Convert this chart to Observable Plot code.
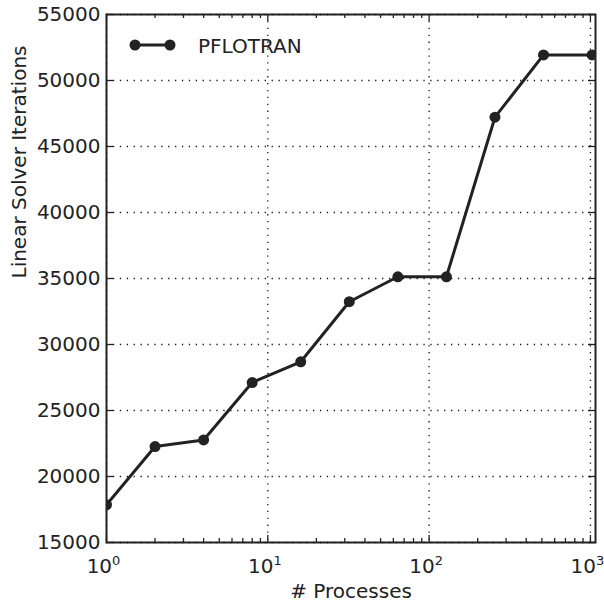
<!DOCTYPE html>
<html>
<head>
<meta charset="utf-8">
<script src="https://cdn.jsdelivr.net/npm/d3@7"></script>
<script src="https://cdn.jsdelivr.net/npm/@observablehq/plot@0.6"></script>
<style>
  html, body { margin: 0; padding: 0; background: #fff; }
  #chart { width: 604px; height: 604px; }
</style>
</head>
<body>
<div id="chart"></div>
<script>
// ---- data ----
const processes = [1, 2, 4, 8, 16, 32, 64, 128, 256, 512, 1024];
const iterations = [17860, 22270, 22770, 27120, 28690, 33240, 35130, 35130, 47220, 51940, 51940];
const seriesName = "PFLOTRAN";
const yTicks = [15000, 20000, 25000, 30000, 35000, 40000, 45000, 50000, 55000];
const xMajorTicks = [1, 10, 100, 1000];
const xMinorTicks = [2, 3, 4, 5, 6, 7, 8, 9, 20, 30, 40, 50, 60, 70, 80, 90, 200, 300, 400, 500, 600, 700, 800, 900];
const xDomain = [1, 1075];
const yDomain = [15000, 55000];
const xLabel = "# Processes";
const yLabel = "Linear Solver Iterations";

// ---- layout / style ----
const W = 604, H = 604;
const mL = 106, mR = 9, mT = 14, mB = 62;
const plotW = W - mL - mR, plotH = H - mT - mB;
const ink = "#222222";
const font = "DejaVu Sans";
const gridStyle = {stroke: "#000", strokeWidth: 1.3, strokeDasharray: "1.3,5.6", strokeOpacity: 0.9};
const majorLen = 7, minorLen = 4;

const table = processes.map((p, i) => ({processes: p, iterations: iterations[i]}));

const chart = Plot.plot({
  width: W,
  height: H,
  marginLeft: mL,
  marginRight: mR,
  marginTop: mT,
  marginBottom: mB,
  style: {fontFamily: font, fontSize: "20px", color: ink, background: "#fff"},
  x: {type: "log", domain: xDomain},
  y: {type: "linear", domain: yDomain},
  marks: [
    // grid
    Plot.ruleX(xMajorTicks, {...gridStyle}),
    Plot.ruleY(yTicks, {...gridStyle}),
    // inward ticks: bottom & top x
    Plot.ruleX(xMajorTicks, {insetTop: plotH - majorLen, stroke: ink, strokeWidth: 1.3}),
    Plot.ruleX(xMajorTicks, {insetBottom: plotH - majorLen, stroke: ink, strokeWidth: 1.3}),
    Plot.ruleX(xMinorTicks, {insetTop: plotH - minorLen, stroke: ink, strokeWidth: 1.3}),
    Plot.ruleX(xMinorTicks, {insetBottom: plotH - minorLen, stroke: ink, strokeWidth: 1.3}),
    // inward ticks: left & right y
    Plot.ruleY(yTicks, {insetRight: plotW - majorLen, stroke: ink, strokeWidth: 1.3}),
    Plot.ruleY(yTicks, {insetLeft: plotW - majorLen, stroke: ink, strokeWidth: 1.3}),
    // data
    Plot.line(table, {x: "processes", y: "iterations", stroke: ink, strokeWidth: 3, clip: true}),
    Plot.dot(table, {x: "processes", y: "iterations", r: 5.5, fill: ink, stroke: null, clip: true}),
    // frame
    Plot.frame({stroke: ink, strokeWidth: 2}),
    // axes (labels only)
    Plot.axisX(xMajorTicks, {
      tickSize: 0, tickPadding: 16, label: null, fontSize: 20, fill: ink, dx: -3,
      tickFormat: d => String(Math.round(Math.log10(d)))
    }),
    Plot.axisY(yTicks, {
      tickSize: 0, tickPadding: 6, label: null, fontSize: 20, fill: ink,
      tickFormat: d => String(d)
    }),
    // axis titles
    Plot.text([xLabel], {text: d => d, frameAnchor: "bottom", dy: 48.6, lineAnchor: "middle", fontSize: 20, fill: ink}),
    Plot.text([yLabel], {text: d => d, frameAnchor: "left", dx: -87.4, rotate: -90, lineAnchor: "middle", fontSize: 20, fill: ink})
  ]
});

document.getElementById("chart").appendChild(chart);

// superscript powers-of-ten tick labels
const svg = d3.select(chart);
svg.selectAll('g[aria-label="x-axis tick label"] text').each(function() {
  const t = d3.select(this);
  const exp = t.text();
  t.text("");
  t.append("tspan").text("10");
  t.append("tspan").attr("dy", "-8").attr("font-size", "13px").text(exp);
});

// legend (upper left, inside the axes)
const lg = svg.append("g").attr("aria-label", "legend");
lg.append("line").attr("x1", 135).attr("x2", 170).attr("y1", 45).attr("y2", 45)
  .attr("stroke", ink).attr("stroke-width", 3);
lg.selectAll("circle").data([135, 170]).join("circle")
  .attr("cx", d => d).attr("cy", 45).attr("r", 5.5).attr("fill", ink);
lg.append("text").attr("x", 198).attr("y", 52.5)
  .attr("text-anchor", "start")
  .attr("font-family", font).attr("font-size", 20).attr("fill", ink)
  .text(seriesName);
</script>
</body>
</html>
